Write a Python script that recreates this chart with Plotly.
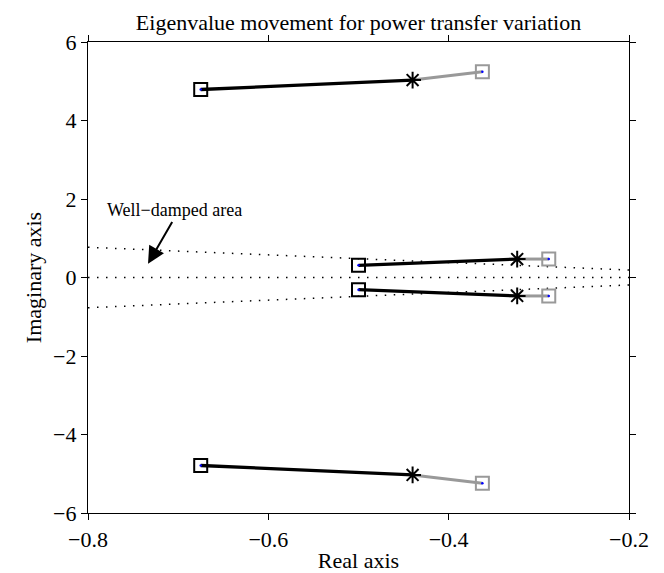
import plotly.graph_objects as go

# Eigenvalue paths: start (square), intermediate (star), end (grey square)
start_re = [-0.675, -0.50, -0.50, -0.675]
start_im = [4.79, 0.31, -0.31, -4.79]
mid_re = [-0.440, -0.324, -0.324, -0.440]
mid_im = [5.03, 0.47, -0.47, -5.03]
end_re = [-0.3626, -0.289, -0.289, -0.3626]
end_im = [5.24, 0.47, -0.47, -5.24]

# Damping boundary lines
damp_x = [-0.8, -0.2]
damp_y_upper = [0.77, 0.19]
damp_y_lower = [-0.77, -0.19]
zero_x = [-0.8, -0.2]
zero_y = [0.0, 0.0]

x_ticks = [-0.8, -0.6, -0.4, -0.2]
x_ticktext = ["\u22120.8", "\u22120.6", "\u22120.4", "\u22120.2"]
y_ticks = [-6, -4, -2, 0, 2, 4, 6]
y_ticktext = ["\u22126", "\u22124", "\u22122", "0", "2", "4", "6"]

FONT = "Liberation Serif, Times New Roman, serif"
GREY = "rgb(153,153,153)"

fig = go.Figure()

dot = dict(color="black", width=1.5, dash="1.5px,7.5px")
for xx, yy in ((damp_x, damp_y_upper), (zero_x, zero_y), (damp_x, damp_y_lower)):
    fig.add_trace(go.Scatter(x=xx, y=yy, mode="lines", line=dot,
                             hoverinfo="skip", showlegend=False))

for i in range(len(start_re)):
    fig.add_trace(go.Scatter(x=[start_re[i], mid_re[i]], y=[start_im[i], mid_im[i]],
                             mode="lines", line=dict(color="black", width=3.3),
                             showlegend=False))
    fig.add_trace(go.Scatter(x=[mid_re[i], end_re[i]], y=[mid_im[i], end_im[i]],
                             mode="lines", line=dict(color=GREY, width=3),
                             showlegend=False))

fig.add_trace(go.Scatter(x=end_re, y=end_im, mode="markers",
                         marker=dict(symbol="square-open", size=13, color=GREY,
                                     line=dict(width=2, color=GREY)),
                         showlegend=False))
fig.add_trace(go.Scatter(x=start_re, y=start_im, mode="markers",
                         marker=dict(symbol="square-open", size=13, color="black",
                                     line=dict(width=2, color="black")),
                         showlegend=False))
fig.add_trace(go.Scatter(x=mid_re, y=mid_im, mode="markers",
                         marker=dict(symbol="asterisk-open", size=14, color="black",
                                     line=dict(width=2, color="black")),
                         showlegend=False))
fig.add_trace(go.Scatter(x=start_re + end_re, y=start_im + end_im, mode="markers",
                         marker=dict(symbol="circle", size=2.5, color="blue"),
                         showlegend=False))

# Annotation
fig.add_annotation(x=-0.7334, y=0.35, ax=-0.7057, ay=1.45, axref="x", ayref="y",
                   xref="x", yref="y", text="", showarrow=True,
                   arrowhead=2, arrowsize=1.7, arrowwidth=2, arrowcolor="black")
fig.add_annotation(x=-0.704, y=1.71, xref="x", yref="y", text="Well\u2212damped area",
                   showarrow=False, font=dict(family=FONT, size=18, color="black"))

axis_common = dict(showgrid=False, zeroline=False, showline=True, linecolor="black",
                   linewidth=1.2, mirror="ticks", ticks="outside", ticklen=6,
                   tickcolor="black", tickwidth=1,
                   tickfont=dict(family=FONT, size=22, color="black"))

fig.update_layout(
    width=664, height=573,
    margin=dict(l=80, r=43, t=34, b=66),
    plot_bgcolor="white", paper_bgcolor="white",
    title=dict(text="Eigenvalue movement for power transfer variation",
               font=dict(family=FONT, size=22, color="black"),
               x=(80 + 621) / 2 / 664, xanchor="center", y=1 - 14 / 573, yanchor="middle"),
    xaxis=dict(range=[-0.8, -0.2], tickvals=x_ticks, ticktext=x_ticktext,
               title=dict(text="Real axis", font=dict(family=FONT, size=22, color="black"),
                          standoff=2),
               **axis_common),
    yaxis=dict(range=[-6, 6], tickvals=y_ticks, ticktext=y_ticktext,
               title=dict(text="Imaginary axis", font=dict(family=FONT, size=22, color="black"),
                          standoff=5),
               **axis_common),
)

fig.write_html("out.html")
